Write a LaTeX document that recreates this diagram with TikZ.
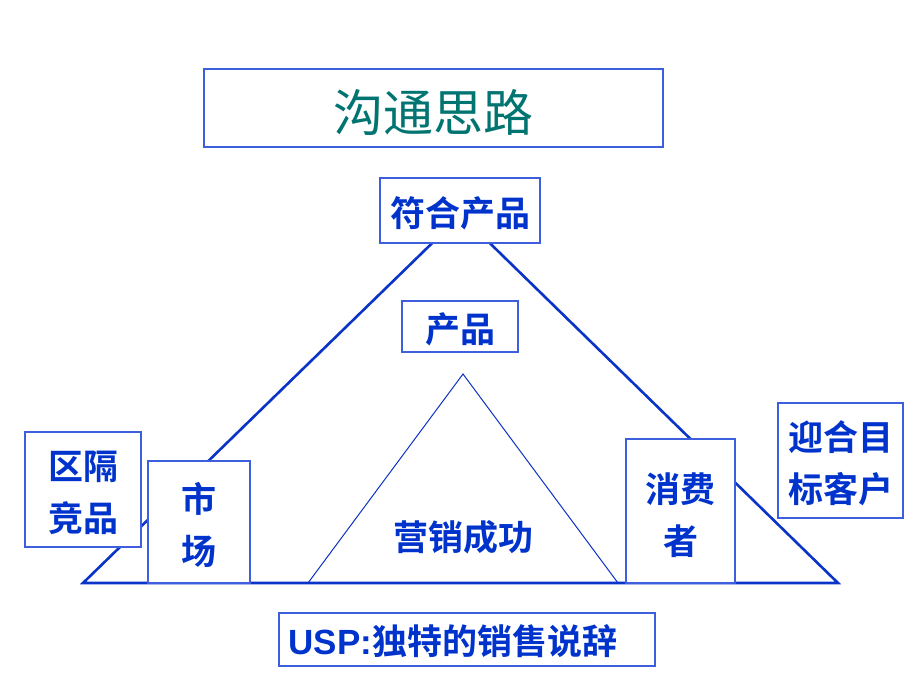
\documentclass[tikz,border=0pt]{standalone}
\usepackage{fontspec}
\newfontfamily\cjkr{Noto Sans CJK SC}
\newfontfamily\cjkb{Noto Sans CJK SC Bold}
\newfontfamily\latb{Liberation Sans Bold}
\definecolor{txtblue}{HTML}{0033CC}
\definecolor{boxblue}{HTML}{3D5FDD}
\definecolor{linblue}{HTML}{0A33C8}
\definecolor{teal}{HTML}{007470}
\tikzset{
  box/.style={draw=boxblue, line width=1.3pt, fill=white, inner sep=0pt},
  boxtext/.style={inner sep=0pt, align=center, text=txtblue, font=\cjkb\fontsize{35}{52}\selectfont},
  bigline/.style={draw=linblue, line width=2.6pt, line join=miter},
  thinline/.style={draw=linblue, line width=1pt}
}
\begin{document}
\begin{tikzpicture}[x=1pt,y=-1pt]
\useasboundingbox[fill=white] (0,0) rectangle (920,690);
% triangles
\coordinate (apex) at (461,215);
\coordinate (bl) at (83,583);
\coordinate (br) at (838,583);
\coordinate (iapex) at (463,374);
\coordinate (ibl) at (308,583);
\coordinate (ibr) at (618,583);
\draw[thinline] (ibl) -- (iapex) -- (ibr);
\draw[bigline] (bl) -- (apex) -- (br) -- cycle;
% boxes
\node[box, minimum width=459, minimum height=78] (title) at (433.5,108) {};
\node[boxtext, text=teal, font=\cjkr\fontsize{50}{60}\selectfont] (titlet) at ([yshift=-5pt]title.center) {沟通思路};
\node[box, minimum width=160, minimum height=65] (fuhe) at (460,210.5) {};
\node[boxtext] (fuhet) at ([yshift=-3pt]fuhe.center) {符合产品};
\node[box, minimum width=116, minimum height=51] (chanpin) at (460,326.5) {};
\node[boxtext] (chanpint) at ([yshift=-3pt]chanpin.center) {产品};
\node[box, minimum width=116, minimum height=115] (quge) at (83,489.5) {};
\node[boxtext] (quget) at ([yshift=-3pt]quge.center) {区隔\\竞品};
\node[box, minimum width=102, minimum height=122] (shichang) at (199,522) {};
\node[boxtext] (shichangt) at ([yshift=-3pt]shichang.center) {市\\场};
\node[box, minimum width=109, minimum height=144] (xiaofei) at (680.5,511) {};
\node[boxtext] (xiaofeit) at ([yshift=-4pt]xiaofei.center) {消费\\者};
\node[box, minimum width=125, minimum height=115] (yinghe) at (840.5,460.5) {};
\node[boxtext] (yinghet) at ([yshift=-3pt]yinghe.center) {迎合目\\标客户};
\node[box, minimum width=376, minimum height=53] (usp) at (467,639.5) {};
\node[boxtext, anchor=west] (uspt) at ([xshift=10pt,yshift=-2pt]usp.west) {{\latb USP:}独特的销售说辞};
\node[boxtext] (succ) at (463,537) {营销成功};
\end{tikzpicture}
\end{document}
